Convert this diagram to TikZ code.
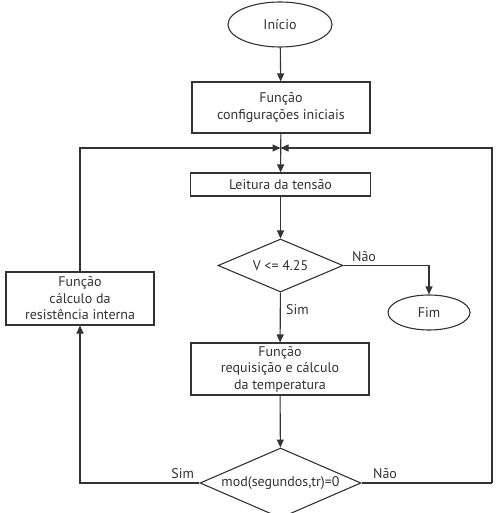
\documentclass[tikz,border=0pt]{standalone}
\usepackage{fontspec}
\setmainfont{PT Sans}
\usetikzlibrary{shapes.geometric,arrows.meta}
\definecolor{ln}{HTML}{333333}
\begin{document}
\begin{tikzpicture}[x=1pt,y=-1pt,
  font=\fontsize{14}{16.5}\selectfont,
  every node/.style={text=ln},
  line/.style={draw=ln,line width=1.1pt},
  arr/.style={line,-{Triangle[length=8pt,width=7pt]}},
  box/.style={draw=ln,line width=1.1pt,rectangle,inner sep=0pt,align=center},
  term/.style={draw=ln,line width=1.1pt,ellipse,inner sep=0pt},
  dec/.style={draw=ln,line width=1.1pt,diamond,inner sep=0pt,aspect=2.4}]
\useasboundingbox (0,0) rectangle (500,513);
\node[term,minimum width=104pt,minimum height=45pt] (inicio) at (280,24.5) {Início};
\node[box,minimum width=178pt,minimum height=51pt] (conf) at (281,107.5) {Função\\configurações iniciais};
\node[box,minimum width=180pt,minimum height=23pt] (leit) at (280.5,184.5) {Leitura da tensão};
\node[dec,minimum width=125pt,minimum height=53pt] (d1) at (280.5,265.5) {V <= 4.25};
\node[term,minimum width=82pt,minimum height=35pt] (fim) at (429,312.5) {Fim};
\node[box,minimum width=178pt,minimum height=52pt] (req) at (280,369) {Função\\requisição e cálculo\\da temperatura};
\node[dec,minimum width=161pt,minimum height=70pt] (d2) at (280.5,483) {mod(segundos,tr)=0};
\node[box,minimum width=148pt,minimum height=53pt] (calc) at (80,298.5) {Função\\cálculo da\\resistência interna};
\coordinate (j) at (280.5,148);
\coordinate (rc) at (492,483);
\draw[arr] (inicio) -- (conf);
\draw[arr] (conf) -- (leit);
\draw[arr] (leit) -- (d1);
\draw[arr] (d1.east) -| node[pos=0.12,above] {Não} (fim.north);
\draw[arr] (d1) -- node[pos=0.35,right,xshift=2pt] {Sim} (req);
\draw[arr] (req) -- (d2);
\draw[line] (d2.east) -- node[pos=0.18,above] {Não} (rc);
\draw[arr] (rc) |- (j);
\draw[arr] (d2.west) -| node[pos=0.07,above] {Sim} (calc.south);
\draw[arr] (calc.north) |- (j);
\end{tikzpicture}
\end{document}
